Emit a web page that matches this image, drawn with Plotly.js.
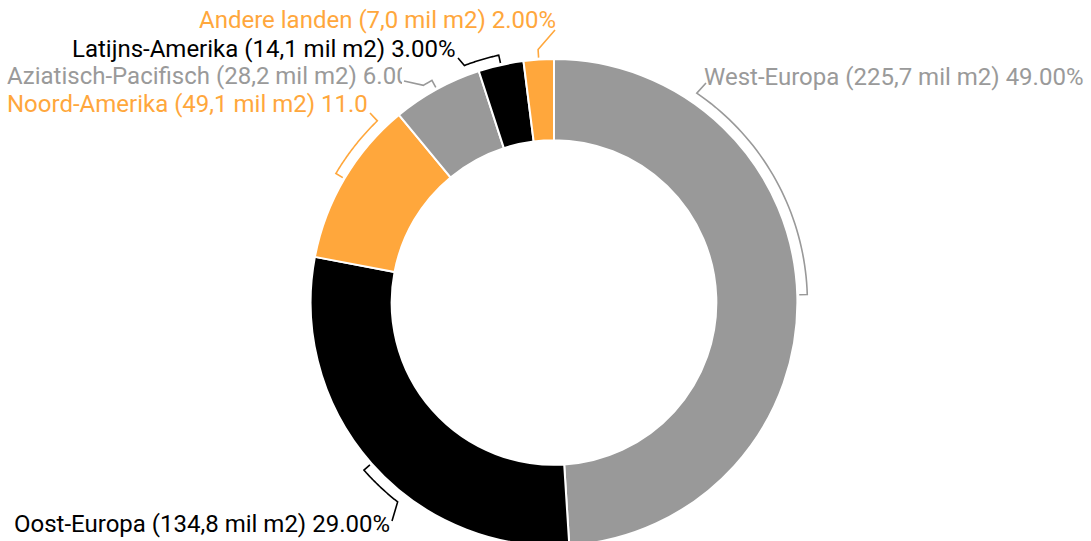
<!DOCTYPE html>
<html><head><meta charset="utf-8">
<script src="https://cdn.plot.ly/plotly-3.0.1.min.js"></script>
<style>html,body{margin:0;padding:0;overflow:hidden;background:#fff}#chart{width:1091px;height:605px}</style>
</head><body><div id="chart"></div>
<script>
// ---- data ----
const regions = ['West-Europa', 'Oost-Europa', 'Noord-Amerika', 'Aziatisch-Pacifisch', 'Latijns-Amerika', 'Andere landen'];
const areaLabels = ['225,7', '134,8', '49,1', '28,2', '14,1', '7,0']; // mil m2
const shares = [49, 29, 11, 6, 3, 2]; // %
const sliceColors = ['#999999', '#000000', '#FFA73C', '#999999', '#000000', '#FFA73C'];

// ---- geometry / style ----
const W = 1091, H = 605;
const CX = 554, CY = 302.5, R = 243.4, HOLE = 0.667;
const RB = R + 10, RT = R + 2;
const labelStyle = [
  {x: 702, y: 77, anchor: 'left', arcTo: 34.3, join: [706, 83]},
  {x: 12, y: 524, anchor: 'left', arcTo: 218.1, join: [392, 521]},
  {x: 5, y: 104, anchor: 'left', clip: 361, arcTo: 315.8, join: [370, 113]},
  {x: 5, y: 76, anchor: 'left', clip: 395, arcTo: 329, join: [404, 81]},
  {x: 70, y: 49, anchor: 'left', arcTo: 339.3, join: [458, 58]},
  {x: 558, y: 20, anchor: 'right', arcTo: null, join: [555, 30]}
];

const X = px => px / W, Y = py => 1 - py / H;
const total = shares.reduce((a, b) => a + b, 0);
let cum = 0;
const mids = shares.map(s => { const m = (cum + s / 2) / total * 360; cum += s; return m; });
const pt = (a, r) => { const t = a * Math.PI / 180; return [CX + r * Math.sin(t), CY - r * Math.cos(t)]; };

const shapes = [], annotations = [];
regions.forEach((name, i) => {
  const st = labelStyle[i], col = sliceColors[i], m = mids[i];
  const pts = [pt(m, RT), pt(m, RB)];
  if (st.arcTo !== null) {
    const n = 40;
    for (let k = 1; k <= n; k++) pts.push(pt(m + (st.arcTo - m) * k / n, RB));
  }
  pts.push(st.join);
  const path = pts.map((p, k) => (k ? 'L' : 'M') + X(p[0]).toFixed(5) + ',' + Y(p[1]).toFixed(5)).join(' ');
  shapes.push({type: 'path', xref: 'paper', yref: 'paper', path, line: {color: col, width: 1.6}});
  const ann = {
    xref: 'paper', yref: 'paper', x: X(st.x), y: Y(st.y), xanchor: st.anchor, yanchor: 'middle',
    showarrow: false, align: 'left',
    text: name + ' (' + areaLabels[i] + ' mil m2) ' + shares[i].toFixed(2) + '%',
    font: {family: 'Roboto', size: 24, color: col === '#000000' ? '#000000' : (col === '#999999' ? '#9a9a9a' : col)}
  };
  if (st.clip) ann.width = st.clip;
  annotations.push(ann);
});

const trace = {
  type: 'pie', values: shares, labels: regions, sort: false, direction: 'clockwise', rotation: 0,
  hole: HOLE, textinfo: 'none', hoverinfo: 'none', showlegend: false,
  marker: {colors: sliceColors, line: {color: '#ffffff', width: 2}},
  domain: {x: [X(CX - R), X(CX + R)], y: [0, 1]}
};
Plotly.newPlot('chart', [trace], {
  width: W, height: H, margin: {l: 0, r: 0, t: 0, b: 0}, paper_bgcolor: '#fff',
  showlegend: false, shapes, annotations
}, {displayModeBar: false, staticPlot: true});
</script></body></html>
